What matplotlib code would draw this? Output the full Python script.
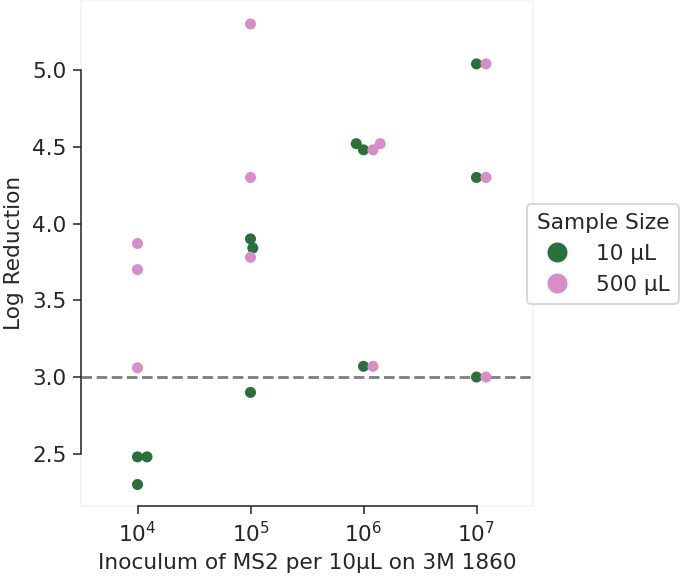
import numpy as np
import pandas as pd
import matplotlib
matplotlib.use("Agg")
import matplotlib.pyplot as plt
import seaborn as sns
from matplotlib.lines import Line2D
from matplotlib.patches import Rectangle

# inoculum levels (category order on x)
inoculum = ["1e4", "1e5", "1e6", "1e7"]
tick_labels = [r"$10^{4}$", r"$10^{5}$", r"$10^{6}$", r"$10^{7}$"]

# log reductions, three replicates per level
lr_10ul = {
    "1e4": [2.48, 2.48, 2.30],
    "1e5": [3.90, 3.84, 2.90],
    "1e6": [4.52, 4.48, 3.07],
    "1e7": [5.04, 4.30, 3.00],
}
lr_500ul = {
    "1e4": [3.87, 3.70, 3.06],
    "1e5": [5.30, 4.30, 3.78],
    "1e6": [4.48, 4.52, 3.07],
    "1e7": [5.04, 4.30, 3.00],
}
sample_sizes = ["10 µL", "500 µL"]
palette = ["#28713a", "#d98dc8"]
limit_of_detection = 3.0

rows = []
for k, (size, table) in enumerate(zip(sample_sizes, [lr_10ul, lr_500ul])):
    for i, level in enumerate(inoculum):
        for v in table[level]:
            rows.append({"pos": i, "lr": v, "hue": k})
df = pd.DataFrame(rows)


def swarm_offsets(y_px, d):
    # simple beeswarm: lowest point first, closest free spot to the centre,
    # right side wins a tie
    order = np.argsort(y_px, kind="stable")
    placed = []
    xs = np.zeros(len(y_px))
    for idx in order:
        y = y_px[idx]
        cands = [0.0]
        for (px, py) in placed:
            dy = abs(y - py)
            if dy < d:
                w = np.sqrt(d * d - dy * dy)
                cands += [px + w, px - w]
        cands = sorted(set(cands), key=lambda c: (round(abs(c), 6), -c))
        for c in cands:
            ok = all((c - px) ** 2 + (y - py) ** 2 >= d * d - 1e-6 for px, py in placed)
            if ok:
                xs[idx] = c
                placed.append((c, y))
                break
    return xs


sns.set_style("white")
dpi = 137
W, H = 683, 577
fig = plt.figure(figsize=(W / dpi, H / dpi), dpi=dpi)
ax_l, ax_r, ax_t, ax_b = 81, 533, 0, 506
ax = fig.add_axes([ax_l / W, 1 - ax_b / H, (ax_r - ax_l) / W, (ax_b - ax_t) / H])

xlim = (-0.5, 3.5)
ylim = (2.16, 5.456)
px_per_x = (ax_r - ax_l) / (xlim[1] - xlim[0])
px_per_y = (ax_b - ax_t) / (ylim[1] - ylim[0])
spacing = 9.5  # px between swarm neighbours

df["x"] = df["pos"].astype(float)
for i in range(len(inoculum)):
    m = df["pos"] == i
    off = swarm_offsets(df.loc[m, "lr"].to_numpy() * px_per_y, spacing)
    df.loc[m, "x"] = i + off / px_per_x

for k, c in enumerate(palette):
    sub = df[df["hue"] == k]
    ax.scatter(sub["x"], sub["lr"], s=5.8 ** 2, color=c, edgecolor="none", zorder=3)

ax.axhline(limit_of_detection, color="grey", ls="--", lw=1.5, zorder=1)

ax.set_xlim(*xlim)
ax.set_ylim(*ylim)
ax.set_xticks(range(len(inoculum)))
ax.set_xticklabels(tick_labels)
ax.set_yticks([2.5, 3.0, 3.5, 4.0, 4.5, 5.0])
fs = 11.4
ax.set_xlabel("Inoculum of MS2 per 10µL on 3M 1860", fontsize=fs)
ax.set_ylabel("Log Reduction", fontsize=fs)
ax.tick_params(axis="both", which="both", bottom=True, left=True,
               length=4.2, width=0.8, labelsize=fs, color="#222222")

for s in ["top", "right"]:
    ax.spines[s].set_visible(False)
ax.spines["left"].set_bounds(2.5, 5.0)
ax.spines["bottom"].set_bounds(0, 3)
for s in ["left", "bottom"]:
    ax.spines[s].set_color("#222222")
    ax.spines[s].set_linewidth(0.8)

# faint frame of the axes area
ax.add_patch(Rectangle((0, 0), 1, 1, transform=ax.transAxes, fill=False,
                       edgecolor="#f2f2f2", lw=0.8, zorder=-1, clip_on=False))

handles = [Line2D([], [], ls="", marker="o", markersize=10.5,
                  markerfacecolor=c, markeredgecolor="none") for c in palette]
leg = fig.legend(handles, sample_sizes, title="Sample Size", loc="center left",
                 bbox_to_anchor=(527 / W, 1 - 254 / H), borderaxespad=0,
                 fontsize=fs, title_fontsize=fs, frameon=True)

fig.savefig("out.png", dpi=dpi)
